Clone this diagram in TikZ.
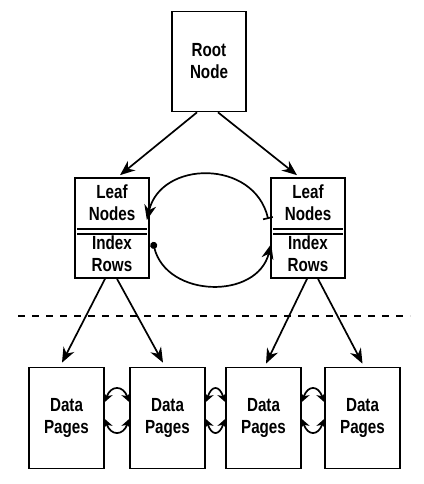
\documentclass[tikz,border=0pt]{standalone}
\usepackage{fontspec}
\setmainfont{Liberation Sans}[FakeStretch=0.8]
\usetikzlibrary{arrows.meta}
\begin{document}
\begin{tikzpicture}[x=1pt, y=-1pt, line width=1.7pt,
  box/.style={draw, rectangle, minimum width=74pt, minimum height=100pt},
  lbl/.style={align=center, font=\fontsize{19}{22}\selectfont\bfseries},
  arr/.style={-{Stealth[length=15pt, width=12pt]}},
  link/.style={{Stealth[length=9pt, width=10pt]}-{Stealth[length=9pt, width=10pt]}}]
\useasboundingbox (0,0) rectangle (423,484);
\node[box, lbl] (root) at (209,61.5) {Root\\Node};
\node[box] (leafL) at (112,228) {};
\node[box] (leafR) at (308,228) {};
\node[lbl] (leafLtop) at (112,203) {Leaf\\Nodes};
\node[lbl] (leafLbot) at (112,254) {Index\\Rows};
\node[lbl] (leafRtop) at (308,203) {Leaf\\Nodes};
\node[lbl] (leafRbot) at (308,254) {Index\\Rows};
\draw ([xshift=3pt, yshift=-1.3pt]leafL.west) -- ([xshift=-3pt, yshift=-1.3pt]leafL.east);
\draw ([xshift=3pt, yshift=-6pt]leafL.west) -- ([xshift=-3pt, yshift=-6pt]leafL.east);
\draw ([xshift=3pt, yshift=-1.3pt]leafR.west) -- ([xshift=-3pt, yshift=-1.3pt]leafR.east);
\draw ([xshift=3pt, yshift=-6pt]leafR.west) -- ([xshift=-3pt, yshift=-6pt]leafR.east);
\node[box, lbl, minimum width=75pt, minimum height=101pt] (d1) at (66.5,418) {Data\\Pages};
\node[box, lbl, minimum width=75pt, minimum height=101pt] (d2) at (167.5,418) {Data\\Pages};
\node[box, lbl, minimum width=75pt, minimum height=101pt] (d3) at (263.5,418) {Data\\Pages};
\node[box, lbl, minimum width=75pt, minimum height=101pt] (d4) at (362.5,418) {Data\\Pages};
\draw[arr] ([xshift=-12pt]root.south) -- ([xshift=8pt, yshift=2pt]leafL.north);
\draw[arr] ([xshift=9pt]root.south) -- ([xshift=-11pt, yshift=2pt]leafR.north);
\draw[arr] ([xshift=-7pt]leafL.south) -- ([xshift=-4.5pt, yshift=4pt]d1.north);
\draw[arr] ([xshift=5pt]leafL.south) -- ([xshift=-4.5pt, yshift=4pt]d2.north);
\draw[arr] ([xshift=-1pt]leafR.south) -- ([xshift=2.5pt, yshift=3pt]d3.north);
\draw[arr] ([xshift=10pt]leafR.south) -- ([yshift=3pt]d4.north);
\draw[{Bar[width=10pt]}-{Stealth[length=15pt, width=12pt]}] ([xshift=-2pt, yshift=9pt]leafR.west) .. controls +(-14,-60) and +(14,-60) .. ([xshift=-3pt, yshift=8pt]leafL.east);
\draw[{Circle[length=7pt]}-{Stealth[length=15pt, width=12pt]}] ([xshift=3pt, yshift=-14pt]leafL.east) .. controls +(14,56) and +(-14,56) .. ([xshift=1pt, yshift=-16pt]leafR.west);
\draw[line width=1.4pt, dash pattern=on 7.3pt off 6.7pt] (18,316) -- (410,316);
\draw[link] ([yshift=16pt]d1.east) .. controls +(6,-17) and +(-6,-17) .. ([yshift=16pt]d2.west);
\draw[link] ([yshift=-1pt]d1.east) .. controls +(6,17) and +(-6,17) .. ([yshift=-1pt]d2.west);
\draw[link] ([yshift=16pt]d2.east) .. controls +(6,-17) and +(-6,-17) .. ([yshift=16pt]d3.west);
\draw[link] ([yshift=-1pt]d2.east) .. controls +(6,17) and +(-6,17) .. ([yshift=-1pt]d3.west);
\draw[link] ([yshift=16pt]d3.east) .. controls +(6,-17) and +(-6,-17) .. ([yshift=16pt]d4.west);
\draw[link] ([yshift=-1pt]d3.east) .. controls +(6,17) and +(-6,17) .. ([yshift=-1pt]d4.west);
\end{tikzpicture}
\end{document}
